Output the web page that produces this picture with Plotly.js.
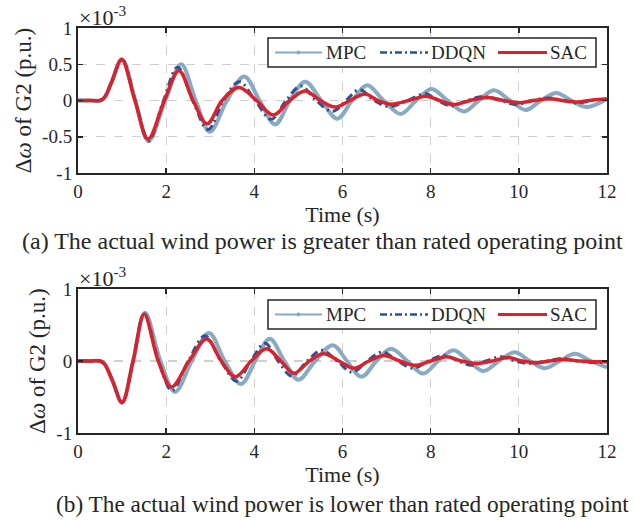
<!DOCTYPE html>
<html>
<head>
<meta charset="utf-8">
<script src="https://cdn.plot.ly/plotly-3.0.1.min.js"></script>
<style>html,body{margin:0;padding:0;background:#fff;}#chart{width:634px;height:521px;}</style>
</head>
<body>
<div id="chart"></div>
<script>
// ---- (a) actual wind power greater than rated point ----
const timeA_MPC = [0, 0.3, 0.5, 0.6, 0.76, 1.0, 1.3, 1.6, 1.98, 2.34, 2.67, 2.99, 3.38, 3.77, 4.12, 4.47, 4.81, 5.15, 5.52, 5.88, 6.22, 6.56, 6.93, 7.32, 7.67, 8.02, 8.38, 8.76, 9.09, 9.43, 9.8, 10.16, 10.5, 10.85, 11.19, 11.54, 12];
const valA_MPC  = [0, 0, 0, 0.04, 0.25, 0.57, 0, -0.56, 0, 0.5, 0, -0.43, 0, 0.33, 0, -0.33, 0, 0.26, 0, -0.25, 0, 0.21, 0, -0.185, 0, 0.16, 0, -0.15, 0, 0.14, 0, -0.13, 0, 0.105, 0, -0.09, 0.02];
const timeA_DDQN = [0, 0.3, 0.5, 0.6, 0.76, 1.0, 1.3, 1.6, 1.94, 2.26, 2.6, 2.95, 3.3, 3.66, 4.02, 4.38, 4.72, 5.05, 5.4, 5.77, 6.08, 6.38, 6.72, 7.06, 7.48, 7.88, 8.16, 8.46, 8.83, 9.2, 9.58, 9.95, 10.3, 10.68, 11.0, 11.3, 11.65, 12];
const valA_DDQN  = [0, 0, 0, 0.04, 0.25, 0.565, 0, -0.56, 0, 0.46, 0, -0.4, 0, 0.26, 0, -0.26, 0, 0.2, 0, -0.15, 0, 0.15, 0, -0.085, 0, 0.095, 0, -0.075, 0, 0.055, 0, -0.055, 0, 0.035, 0, -0.035, 0, 0.02];
const timeA_SAC = [0, 0.3, 0.5, 0.6, 0.76, 0.99, 1.29, 1.59, 1.96, 2.29, 2.61, 2.93, 3.27, 3.65, 4.05, 4.43, 4.8, 5.15, 5.5, 5.83, 6.17, 6.51, 6.8, 7.11, 7.5, 7.9, 8.2, 8.51, 8.9, 9.3, 9.65, 9.98, 10.35, 10.7, 11.0, 11.3, 11.65, 12];
const valA_SAC  = [0, 0, 0, 0.04, 0.25, 0.565, 0, -0.53, 0, 0.41, 0, -0.32, 0, 0.18, 0, -0.2, 0, 0.13, 0, -0.09, 0, 0.09, 0, -0.05, 0, 0.06, 0, -0.055, 0, 0.04, 0, -0.03, 0, 0.025, 0, -0.02, 0.005, 0.02];

// ---- (b) actual wind power lower than rated point ----
const timeB_MPC = [0, 0.3, 0.5, 0.6, 0.78, 1.0, 1.25, 1.52, 1.87, 2.2, 2.58, 2.97, 3.33, 3.7, 4.02, 4.35, 4.68, 5.0, 5.38, 5.78, 6.1, 6.43, 6.77, 7.1, 7.47, 7.83, 8.17, 8.52, 8.86, 9.2, 9.55, 9.9, 10.25, 10.59, 10.93, 11.27, 11.63, 12];
const valB_MPC  = [0, 0, 0, -0.04, -0.27, -0.58, 0, 0.67, 0, -0.43, 0, 0.39, 0, -0.32, 0, 0.31, 0, -0.26, 0, 0.22, 0, -0.22, 0, 0.17, 0, -0.175, 0, 0.15, 0, -0.14, 0, 0.12, 0, -0.1, 0, 0.1, 0, -0.09];
const timeB_DDQN = [0, 0.3, 0.5, 0.6, 0.78, 1.0, 1.25, 1.5, 1.83, 2.13, 2.5, 2.88, 3.24, 3.6, 3.92, 4.24, 4.54, 4.85, 5.2, 5.53, 5.88, 6.22, 6.56, 6.9, 7.25, 7.6, 7.95, 8.3, 8.62, 8.93, 9.25, 9.6, 9.92, 10.25, 10.62, 11.0, 11.3, 11.6, 12];
const valB_DDQN  = [0, 0, 0, -0.04, -0.27, -0.575, 0, 0.655, 0, -0.41, 0, 0.35, 0, -0.28, 0, 0.245, 0, -0.21, 0, 0.15, 0, -0.155, 0, 0.125, 0, -0.1, 0, 0.08, 0, -0.06, 0, 0.06, 0, -0.035, 0, 0.035, 0, -0.02, -0.02];
const timeB_SAC = [0, 0.3, 0.5, 0.6, 0.78, 1.0, 1.25, 1.5, 1.82, 2.12, 2.52, 2.92, 3.25, 3.57, 3.93, 4.28, 4.6, 4.9, 5.25, 5.57, 5.92, 6.26, 6.6, 6.94, 7.3, 7.65, 8.0, 8.36, 8.7, 9.03, 9.4, 9.75, 10.07, 10.4, 10.7, 11.0, 11.4, 11.7, 12];
const valB_SAC  = [0, 0, 0, -0.04, -0.27, -0.575, 0, 0.65, 0, -0.36, 0, 0.305, 0, -0.22, 0, 0.17, 0, -0.17, 0, 0.1, 0, -0.1, 0, 0.075, 0, -0.06, 0, 0.06, 0, -0.035, 0, 0.05, 0, -0.025, 0, 0.02, 0, -0.01, -0.01];

const seriesNames = ['MPC', 'DDQN', 'SAC'];
const xTickVals = [0, 2, 4, 6, 8, 10, 12];
const xTickText = ['0', '2', '4', '6', '8', '10', '12'];
const yTickValsA = [-1, -0.5, 0, 0.5, 1];
const yTickTextA = ['-1', '-0.5', '0', '0.5', '1'];
const yTickValsB = [-1, 0, 1];
const yTickTextB = ['-1', '0', '1'];
const captionA = '(a) The actual wind power is greater than rated operating point';
const captionB = '(b) The actual wind power is lower than rated operating point';
const xTitle = 'Time (s)';
const yTitle = 'Δ<i>ω</i> of G2 (p.u.)';
const scaleLabel = '×10<sup>-3</sup>';

const FONT = "'Liberation Serif', 'Times New Roman', serif";
const INK = '#262626';
const styles = {
  MPC: {color: '#88abc3', width: 4, dash: 'solid', legWidth: 2},
  DDQN: {color: '#2f5191', width: 3, dash: '8px,4px,2px,4px', legWidth: 2.5, legDash: '7px,3px,2px,3px'},
  SAC: {color: '#d9222c', width: 3.5, dash: 'solid', legWidth: 3}
};

function mk(name, x, y, xa, ya) {
  const s = styles[name];
  return {
    type: 'scatter', x: x, y: y, name: name, xaxis: xa, yaxis: ya, mode: 'lines',
    line: {color: s.color, width: s.width, dash: s.dash, shape: 'spline', smoothing: 1},
    showlegend: false
  };
}

const data = [
  mk('MPC', timeA_MPC, valA_MPC, 'x', 'y'),
  mk('DDQN', timeA_DDQN, valA_DDQN, 'x', 'y'),
  mk('SAC', timeA_SAC, valA_SAC, 'x', 'y'),
  mk('MPC', timeB_MPC, valB_MPC, 'x2', 'y2'),
  mk('DDQN', timeB_DDQN, valB_DDQN, 'x2', 'y2'),
  mk('SAC', timeB_SAC, valB_SAC, 'x2', 'y2')
];

const axCommon = {
  showline: true, linecolor: INK, linewidth: 2, mirror: 'ticks',
  ticks: 'inside', ticklen: 5, tickwidth: 1.5, tickcolor: INK,
  showgrid: true, gridcolor: '#cfcfcf', gridwidth: 1.3, griddash: 'dash',
  zeroline: false, tickfont: {family: FONT, size: 19, color: INK}
};
function xax(anchor) {
  return Object.assign({}, axCommon, {
    anchor: anchor, range: [0, 12], tickmode: 'array', tickvals: xTickVals, ticktext: xTickText,
    title: {text: xTitle, font: {family: FONT, size: 22, color: INK}, standoff: 5}
  });
}
function yax(anchor, dom, tv, tt) {
  return Object.assign({}, axCommon, {
    anchor: anchor, domain: dom, range: [-1, 1], tickmode: 'array', tickvals: tv, ticktext: tt,
    title: {text: yTitle, font: {family: FONT, size: 23, color: INK}, standoff: 4}
  });
}

// Layout geometry (pixels) for a hand-built legend box, converted to paper coordinates
const M = {l: 78, r: 27, t: 28, b: 88};
const W = 634, H = 521;
const PW = W - M.l - M.r, PH = H - M.t - M.b;
const px = v => (v - M.l) / PW;
const py = v => (H - M.b - v) / PH;

const shapes = [];
const annotations = [];
function addLegend(top) {
  const mid = top + 14.5;
  shapes.push({type: 'rect', xref: 'paper', yref: 'paper', x0: px(268), x1: px(596), y0: py(top), y1: py(top + 29),
    fillcolor: '#ffffff', line: {color: INK, width: 1.5}, layer: 'above'});
  const items = [
    {name: 'MPC', x0: 275, x1: 322, tx: 325},
    {name: 'DDQN', x0: 380, x1: 428, tx: 430},
    {name: 'SAC', x0: 498, x1: 547, tx: 549}
  ];
  items.forEach(it => {
    const s = styles[it.name];
    shapes.push({type: 'line', xref: 'paper', yref: 'paper', x0: px(it.x0), x1: px(it.x1), y0: py(mid), y1: py(mid),
      line: {color: s.color, width: s.legWidth, dash: s.legDash || 'solid'}, layer: 'above'});
    if (it.name === 'MPC') {
      const c = (it.x0 + it.x1) / 2;
      shapes.push({type: 'circle', xref: 'paper', yref: 'paper', x0: px(c - 1.8), x1: px(c + 1.8), y0: py(mid - 1.8), y1: py(mid + 1.8),
        fillcolor: s.color, line: {color: s.color, width: 0.5}, layer: 'above'});
    }
    annotations.push({text: it.name, xref: 'paper', yref: 'paper', x: px(it.tx), y: py(mid), xanchor: 'left', yanchor: 'middle',
      showarrow: false, borderpad: 0, font: {family: FONT, size: 19, color: INK}});
  });
}
addLegend(38);
addLegend(300);

annotations.push(
  {text: scaleLabel, xref: 'paper', yref: 'paper', x: 0, y: 1.0, xanchor: 'left', yanchor: 'bottom', yshift: -3, showarrow: false, borderpad: 0, font: {family: FONT, size: 22, color: INK}},
  {text: scaleLabel, xref: 'paper', yref: 'paper', x: 0, y: py(289), xanchor: 'left', yanchor: 'bottom', yshift: -3, showarrow: false, borderpad: 0, font: {family: FONT, size: 22, color: INK}},
  {text: captionA, xref: 'paper', yref: 'paper', x: px(322), y: py(241), xanchor: 'center', yanchor: 'middle', showarrow: false, font: {family: FONT, size: 24, color: INK}},
  {text: captionB, xref: 'paper', yref: 'paper', x: px(342.5), y: py(504), xanchor: 'center', yanchor: 'middle', showarrow: false, font: {family: FONT, size: 23.3, color: INK}}
);

const layout = {
  width: W, height: H,
  margin: M,
  paper_bgcolor: '#ffffff', plot_bgcolor: '#ffffff',
  font: {family: FONT, color: INK},
  showlegend: false,
  xaxis: xax('y'),
  yaxis: yax('x', [py(173), 1], yTickValsA, yTickTextA),
  xaxis2: xax('y2'),
  yaxis2: yax('x2', [0, py(289)], yTickValsB, yTickTextB),
  shapes: shapes,
  annotations: annotations
};

Plotly.newPlot('chart', data, layout, {displayModeBar: false, staticPlot: true});
</script>
</body>
</html>
